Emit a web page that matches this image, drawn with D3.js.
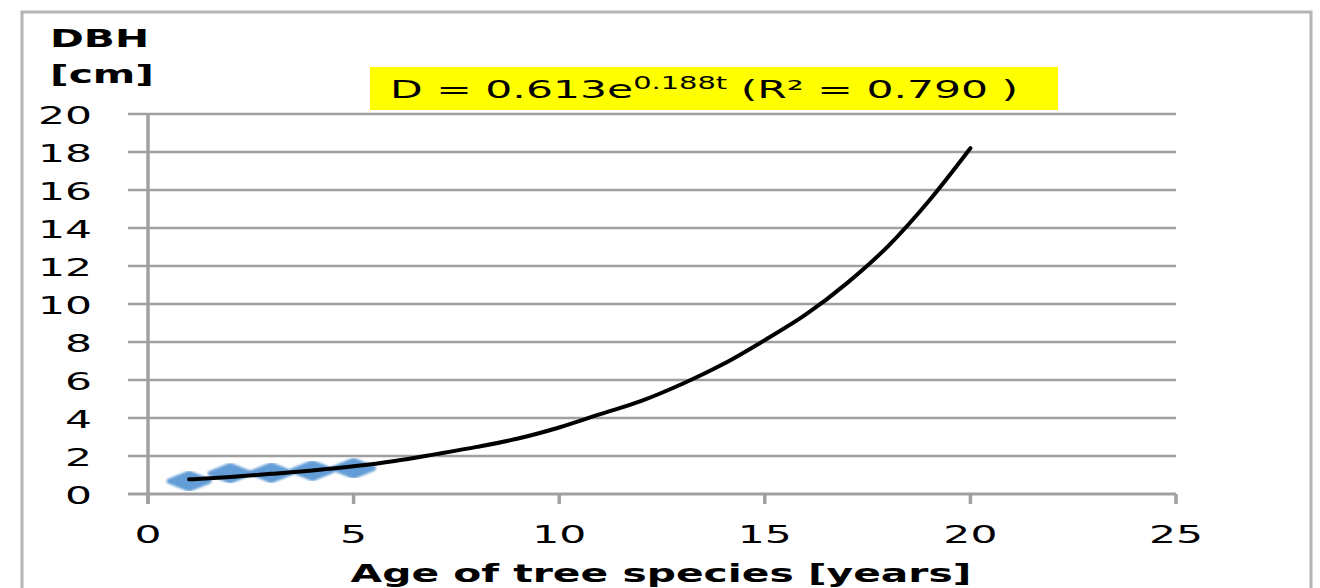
<!DOCTYPE html>
<html>
<head>
<meta charset="utf-8">
<script src="https://cdn.jsdelivr.net/npm/d3@7"></script>
<style>
  body { margin: 0; background: #fff; }
  svg { display: block; font-family: "DejaVu Sans", sans-serif; }
</style>
</head>
<body>
<svg width="1320" height="588"></svg>
<script>
// observed points (age in years, DBH in cm)
const ages = [1, 2, 3, 4, 5];
const dbh = [0.68, 1.09, 1.12, 1.23, 1.35];

// fitted trend line as drawn in the picture
const trendAges = [1, 2, 3, 4, 5, 6, 7, 8, 9, 10, 11, 12, 13, 14, 15, 16, 17, 18, 19, 20];
const trendDbh = [0.77, 0.9, 1.06, 1.24, 1.46, 1.74, 2.1, 2.48, 2.92, 3.5, 4.2, 4.9, 5.8, 6.85, 8.1, 9.45, 11.1, 13.05, 15.45, 18.2];

const xTicks = [0, 5, 10, 15, 20, 25];
const yTicks = [0, 2, 4, 6, 8, 10, 12, 14, 16, 18, 20];

// text in the source is stretched sideways
const sx = 1.7;
const grey = '#a0a0a0';

const svg = d3.select('svg');

// outer frame
svg.append('rect')
    .attr('x', 22).attr('y', 12)
    .attr('width', 1289).attr('height', 600)
    .attr('fill', 'none')
    .attr('stroke', '#b4b4b4')
    .attr('stroke-width', 3);

const x = d3.scaleLinear().domain([0, 25]).range([148, 1176]);
const y = d3.scaleLinear().domain([0, 20]).range([494, 114]);

// grid lines (they also stick out left as ticks)
svg.append('g')
    .selectAll('line')
    .data(yTicks)
    .join('line')
    .attr('x1', 128).attr('x2', x(25))
    .attr('y1', d => y(d)).attr('y2', d => y(d))
    .attr('stroke', grey)
    .attr('stroke-width', d => d === 0 ? 3 : 2.5);

// y axis line
svg.append('line')
    .attr('x1', x(0)).attr('x2', x(0))
    .attr('y1', y(20)).attr('y2', y(0) + 10)
    .attr('stroke', grey)
    .attr('stroke-width', 3.5);

// x ticks
svg.append('g')
    .selectAll('line')
    .data(xTicks)
    .join('line')
    .attr('x1', d => x(d)).attr('x2', d => x(d))
    .attr('y1', y(0)).attr('y2', y(0) + 10)
    .attr('stroke', grey)
    .attr('stroke-width', 3.5);

function label(px, py, txt, size, anchor, bold) {
  const g = svg.append('g').attr('transform', `translate(${px},${py}) scale(${sx},1)`);
  return g.append('text')
      .attr('text-anchor', anchor)
      .attr('font-size', size)
      .attr('font-weight', bold ? 'bold' : 'normal')
      .attr('fill', '#000')
      .text(txt);
}

yTicks.forEach(d => label(92, y(d) + 10, d, 25, 'end'));
xTicks.forEach(d => label(x(d), 543, d, 25, 'middle'));

label(50, 47, 'DBH', 24, 'start', true);
label(50, 83, '[cm]', 24, 'start', true);
label(661, 582, 'Age of tree species [years]', 24, 'middle', true);

// equation box
svg.append('rect')
    .attr('x', 370).attr('y', 67)
    .attr('width', 688).attr('height', 43)
    .attr('fill', '#ffff00');

const eq = label(390, 98, 'D = 0.613e', 25, 'start');
eq.append('tspan').attr('font-size', 17).attr('dy', -9).text('0.188t');
eq.append('tspan').attr('dy', 9).text(' (R² = 0.790 )');

// markers
const defs = svg.append('defs');
defs.append('filter').attr('id', 'soft')
    .append('feGaussianBlur').attr('stdDeviation', 1);

svg.append('g')
    .selectAll('path')
    .data(ages)
    .join('path')
    .attr('d', 'M-20,0L0,-8L20,0L0,8Z')
    .attr('transform', (d, i) => `translate(${x(d)},${y(dbh[i])})`)
    .attr('fill', '#649dd7')
    .attr('stroke', '#649dd7')
    .attr('stroke-width', 5)
    .attr('stroke-linejoin', 'round')
    .attr('filter', 'url(#soft)');

// trend line
const line = d3.line()
    .x((d, i) => x(d))
    .y((d, i) => y(trendDbh[i]))
    .curve(d3.curveMonotoneX);

svg.append('path')
    .datum(trendAges)
    .attr('d', line)
    .attr('fill', 'none')
    .attr('stroke', '#000')
    .attr('stroke-width', 4)
    .attr('stroke-linecap', 'round');
</script>
</body>
</html>
